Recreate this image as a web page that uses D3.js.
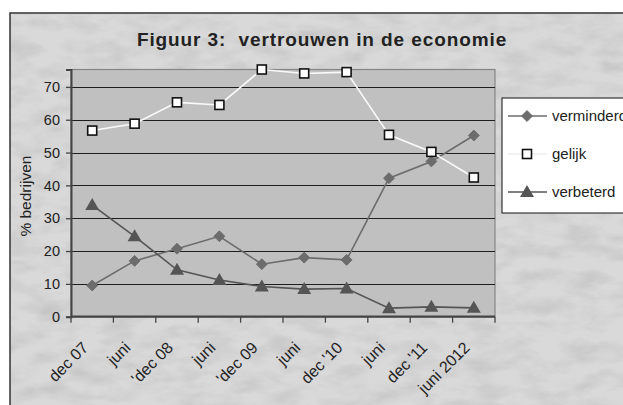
<!DOCTYPE html>
<html><head><meta charset="utf-8">
<script src="https://cdn.jsdelivr.net/npm/d3@7"></script>
<style>html,body{margin:0;padding:0;background:#fff;overflow:hidden}</style>
</head><body><svg id="c" width="623" height="405"></svg>
<script>
const categories = ["dec 07","juni","'dec 08","juni","'dec 09","juni","dec '10","juni","dec '11","juni 2012"];
const verminderd = [9.5, 17, 20.7, 24.5, 16, 18, 17.3, 42.2, 47.3, 55.2];
const gelijk = [56.7, 58.8, 65.3, 64.5, 75.3, 74.1, 74.5, 55.4, 50.2, 42.4];
const verbeterd = [34, 24.5, 14.3, 11.2, 9.2, 8.4, 8.6, 2.6, 3, 2.7];
const yTicks = [0,10,20,30,40,50,60,70];
const seriesNames = ["verminderd","gelijk","verbeterd"];

const FONT = "Liberation Sans, Arial, sans-serif";
const svg = d3.select("#c");
const defs = svg.append("defs");
const f = defs.append("filter").attr("id","marble").attr("x",0).attr("y",0).attr("width",1).attr("height",1);
f.append("feTurbulence").attr("type","fractalNoise").attr("baseFrequency","0.03 0.07").attr("numOctaves",4).attr("seed",7).attr("result","n");
f.append("feColorMatrix").attr("type","matrix")
 .attr("values","0 0 0 0 0.5  0 0 0 0 0.5  0 0 0 0 0.5  1.0 1.0 1.0 0 -1.3");

// outer chart area
svg.append("rect").attr("x",10).attr("y",13).attr("width",640).attr("height",420).attr("fill","#d9d9d9");
svg.append("rect").attr("x",10).attr("y",13).attr("width",640).attr("height",420).attr("fill","#fff").attr("filter","url(#marble)").attr("opacity",0.7);
svg.append("rect").attr("x",10).attr("y",13).attr("width",640).attr("height",420).attr("fill","none").attr("stroke","#333").attr("stroke-width",1.5);

const L = 71, R = 495, T = 69.5, B = 316.7;
const x = d3.scaleBand().domain(d3.range(categories.length)).range([L,R]);
const y = d3.scaleLinear().domain([0,75.3]).range([B,T]);

svg.append("rect").attr("x",L).attr("y",T).attr("width",R-L).attr("height",B-T)
  .attr("fill","#c0c0c0").attr("stroke","#858585").attr("stroke-width",1.2);

// gridlines
svg.append("g").selectAll("line").data(yTicks.filter(d=>d>0)).join("line")
  .attr("x1",L).attr("x2",R).attr("y1",d=>Math.round(y(d))+0.5).attr("y2",d=>Math.round(y(d))+0.5)
  .attr("stroke","#1e1e1e").attr("stroke-width",1.2);

// y axis
const ya = svg.append("g").attr("transform",`translate(${L},0)`)
  .call(d3.axisLeft(y).tickValues(yTicks).tickSize(5).tickPadding(6).tickFormat(d3.format("d")));
ya.select(".domain").attr("stroke","#444").attr("stroke-width",2);
ya.selectAll(".tick line").attr("stroke","#444").attr("stroke-width",1.3);
ya.selectAll("text").attr("font-family",FONT).attr("font-size",14.5).attr("fill","#222");

// x axis
const xa = svg.append("g").attr("transform",`translate(0,${B})`);
xa.append("line").attr("x1",L).attr("x2",R).attr("y1",0).attr("y2",0).attr("stroke","#444").attr("stroke-width",2.2);
const tickPos = d3.range(categories.length+1).map(i => i < categories.length ? x(i) : x(categories.length-1)+x.bandwidth());
xa.selectAll(".tk").data(tickPos).join("line").attr("class","tk")
  .attr("x1",d=>d).attr("x2",d=>d).attr("y1",0).attr("y2",6).attr("stroke","#444").attr("stroke-width",1.3);
xa.selectAll(".lbl").data(categories).join("text").attr("class","lbl")
  .attr("transform",(d,i)=>`translate(${x(i)+x.bandwidth()/2-3},${32}) rotate(-45)`)
  .attr("text-anchor","end")
  .attr("font-family",FONT).attr("font-size",16).attr("fill","#222")
  .text(d=>d);

// y title
svg.append("text").attr("transform",`translate(31,${(T+B)/2+3}) rotate(-90)`).attr("text-anchor","middle")
  .attr("font-family",FONT).attr("font-size",15.5).attr("fill","#222").text("% bedrijven");

// title
svg.append("text").attr("x",322).attr("y",46).attr("text-anchor","middle").style("white-space","pre")
  .attr("font-family",FONT).attr("font-size",19).attr("font-weight","bold")
  .attr("letter-spacing",0.9).attr("fill","#222").text("Figuur 3:  vertrouwen in de economie");

const cx = i => x(i) + x.bandwidth()/2;
const line = d3.line().x((d,i)=>cx(i)).y(d=>y(d));
const styles = {
  verminderd:{data:verminderd, stroke:"#6c6c6c", sw:1.6, marker:"diamond"},
  gelijk:{data:gelijk, stroke:"#fafafa", sw:1.6, marker:"square"},
  verbeterd:{data:verbeterd, stroke:"#555", sw:1.6, marker:"triangle"}
};
function drawMarker(g, type, px, py){
  if(type==="diamond"){
    g.append("path").attr("d",d3.symbol(d3.symbolDiamond2,75)()).attr("transform",`translate(${px},${py})`)
      .attr("fill","#6c6c6c").attr("stroke","#6c6c6c");
  } else if(type==="square"){
    g.append("rect").attr("x",px-4.5).attr("y",py-4.5).attr("width",9).attr("height",9)
      .attr("fill","#fff").attr("stroke","#111").attr("stroke-width",1.6);
  } else {
    g.append("path").attr("d",`M${px},${py-7}L${px+7},${py+5}L${px-7},${py+5}Z`).attr("fill","#555");
  }
}
for (const name of ["verminderd","verbeterd","gelijk"]) {
  const s = styles[name];
  const g = svg.append("g");
  g.append("path").attr("d",line(s.data)).attr("fill","none").attr("stroke",s.stroke).attr("stroke-width",s.sw);
  s.data.forEach((v,i)=>drawMarker(g,s.marker,cx(i),y(v)));
}

// legend
const lg = svg.append("g");
lg.append("rect").attr("x",502).attr("y",98).attr("width",140).attr("height",115).attr("fill","#fff").attr("stroke","#111").attr("stroke-width",1);
seriesNames.forEach((n,i)=>{
  const yy = 116 + i*38;
  const s = styles[n];
  lg.append("line").attr("x1",508).attr("x2",547).attr("y1",yy).attr("y2",yy)
    .attr("stroke", n==="gelijk" ? "#eee" : s.stroke).attr("stroke-width",1.6);
  drawMarker(lg,s.marker,527,yy);
  lg.append("text").attr("x",552).attr("y",yy+5).attr("font-family",FONT)
    .attr("font-size",15).attr("fill","#222").text(n);
});
</script></body></html>
